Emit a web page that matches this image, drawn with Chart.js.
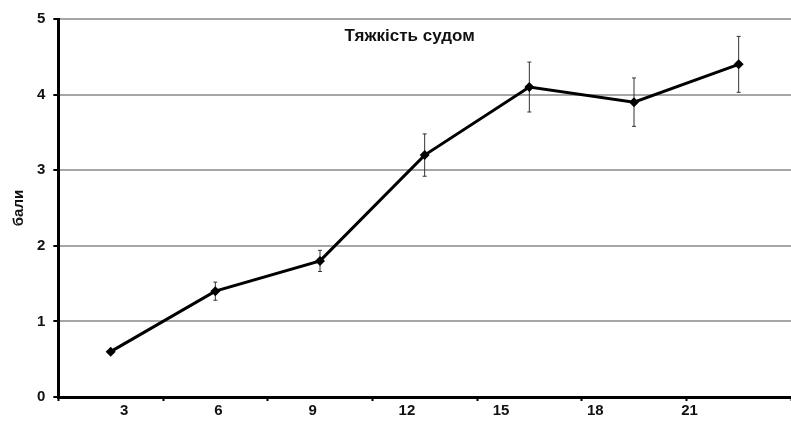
<!DOCTYPE html>
<html lang="uk">
<head>
<meta charset="UTF-8">
<title>Тяжкість судом</title>
<script src="https://cdn.jsdelivr.net/npm/chart.js@4.4.3/dist/chart.umd.min.js"></script>
<style>
  html, body { margin: 0; padding: 0; background: #fff; }
  #wrap { width: 791px; height: 421px; position: relative; }
</style>
</head>
<body>
<div id="wrap"><canvas id="chart"></canvas></div>
<script>
// data
const days = ['3', '6', '9', '12', '15', '18', '21'];
const severity = [0.6, 1.4, 1.8, 3.2, 4.1, 3.9, 4.4];
const severityErr = [0, 0.12, 0.14, 0.28, 0.33, 0.32, 0.37];
const yTicks = [0, 1, 2, 3, 4, 5];
const chartTitle = 'Тяжкість судом';
const yTitle = 'бали';

const FONT = "'Liberation Sans', Arial, sans-serif";

// the day labels sit a little off the points in the original
const LABEL_START = 0.63;
const LABEL_STEP = 0.9;

// vertical error bars, drawn under the line
const errorBars = {
  id: 'errorBars',
  beforeDatasetsDraw(chart) {
    const ctx = chart.ctx;
    const meta = chart.getDatasetMeta(0);
    const y = chart.scales.y;
    ctx.save();
    ctx.strokeStyle = '#333';
    ctx.lineWidth = 1;
    meta.data.forEach((pt, i) => {
      const e = severityErr[i];
      if (!e) return;
      const top = y.getPixelForValue(severity[i] + e);
      const bot = y.getPixelForValue(severity[i] - e);
      ctx.beginPath();
      ctx.moveTo(pt.x, top); ctx.lineTo(pt.x, bot);
      ctx.moveTo(pt.x - 2, top); ctx.lineTo(pt.x + 2, top);
      ctx.moveTo(pt.x - 2, bot); ctx.lineTo(pt.x + 2, bot);
      ctx.stroke();
    });
    ctx.restore();
  }
};

// title placed inside the plot, as in the original
const innerTitle = {
  id: 'innerTitle',
  afterDraw(chart) {
    const a = chart.chartArea;
    const ctx = chart.ctx;
    ctx.save();
    ctx.font = 'bold 17px ' + FONT;
    ctx.fillStyle = '#111';
    ctx.textAlign = 'center';
    ctx.textBaseline = 'middle';
    ctx.fillText(chartTitle, (a.left + a.right) / 2 - 15, a.top + 17);
    ctx.restore();
  }
};

new Chart(document.getElementById('chart'), {
  type: 'line',
  data: {
    labels: days,
    datasets: [{
      data: severity,
      borderColor: '#000',
      backgroundColor: '#000',
      borderWidth: 3,
      pointStyle: 'rectRot',
      pointRadius: 5,
      pointBorderWidth: 0,
      tension: 0
    }]
  },
  options: {
    responsive: true,
    maintainAspectRatio: false,
    animation: false,
    layout: { autoPadding: false, padding: { left: 10, right: 0, top: 19, bottom: 0 } },
    plugins: {
      legend: { display: false },
      tooltip: { enabled: false }
    },
    scales: {
      x: {
        type: 'category',
        offset: true,
        border: { display: true, color: '#000', width: 3 },
        grid: {
          offset: true,
          drawOnChartArea: false,
          drawTicks: true,
          tickLength: 4,
          tickColor: '#000',
          tickWidth: 2
        },
        ticks: { display: false },
        afterFit(axis) { axis.height = 5; }
      },
      x2: {
        type: 'linear',
        position: 'bottom',
        min: 0,
        max: days.length,
        border: { display: false },
        grid: { display: false, drawTicks: false, tickLength: 0 },
        afterBuildTicks(axis) {
          axis.ticks = days.map((_, i) => ({ value: LABEL_START + i * LABEL_STEP }));
        },
        ticks: {
          padding: 0,
          color: '#111',
          font: { family: FONT, size: 15, weight: 'bold' },
          callback: (v, i) => days[i]
        },
        afterFit(axis) { axis.height = 19; }
      },
      y: {
        min: 0,
        max: 5,
        afterBuildTicks(axis) {
          axis.ticks = yTicks.map(v => ({ value: v }));
        },
        border: { display: true, color: '#000', width: 3 },
        grid: {
          color: '#a6a6a6',
          lineWidth: 2,
          tickColor: '#000',
          tickLength: 5,
          tickWidth: 2
        },
        ticks: {
          padding: 8,
          color: '#111',
          font: { family: FONT, size: 15, weight: 'bold' }
        },
        title: {
          display: true,
          text: yTitle,
          color: '#111',
          padding: { top: 0, bottom: 1 },
          font: { family: FONT, size: 15, weight: 'bold' }
        }
      }
    }
  },
  plugins: [errorBars, innerTitle]
});
</script>
</body>
</html>
